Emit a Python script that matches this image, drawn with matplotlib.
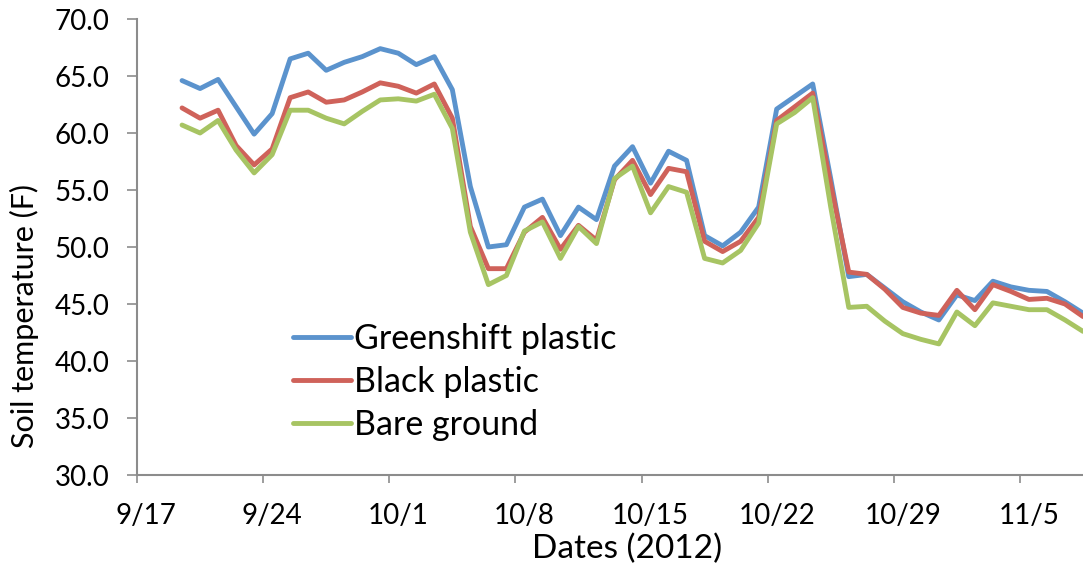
import matplotlib
matplotlib.use("Agg")
import matplotlib.pyplot as plt

# days counted from 9/17 (day 0); readings start 9/19
days = list(range(2, 53))

greenshift = [64.6, 63.9, 64.7, 62.3, 59.9, 61.7, 66.5, 67.0, 65.5, 66.2,
              66.7, 67.4, 67.0, 66.0, 66.7, 63.8, 55.3, 50.0, 50.2, 53.5,
              54.2, 51.0, 53.5, 52.4, 57.1, 58.8, 55.6, 58.4, 57.6, 51.0,
              50.1, 51.3, 53.5, 62.1, 63.2, 64.3, 56.0, 47.4, 47.6, 46.4,
              45.2, 44.3, 43.6, 45.8, 45.3, 47.0, 46.5, 46.2, 46.1, 45.2,
              44.2]
black = [62.2, 61.3, 62.0, 58.9, 57.2, 58.6, 63.1, 63.6, 62.7, 62.9,
         63.6, 64.4, 64.1, 63.5, 64.3, 61.3, 51.8, 48.1, 48.1, 51.3,
         52.6, 49.8, 51.9, 50.6, 55.9, 57.6, 54.6, 56.9, 56.6, 50.5,
         49.6, 50.5, 52.6, 61.1, 62.3, 63.5, 55.5, 47.8, 47.6, 46.3,
         44.7, 44.2, 44.0, 46.2, 44.5, 46.7, 46.1, 45.4, 45.5, 45.0,
         43.9]
bare = [60.7, 60.0, 61.1, 58.5, 56.5, 58.1, 62.0, 62.0, 61.3, 60.8,
        61.9, 62.9, 63.0, 62.8, 63.4, 60.4, 51.3, 46.7, 47.5, 51.4,
        52.2, 49.0, 51.8, 50.3, 56.0, 57.1, 53.0, 55.3, 54.8, 49.0,
        48.6, 49.7, 52.1, 60.8, 61.8, 63.1, 53.5, 44.7, 44.8, 43.5,
        42.4, 41.9, 41.5, 44.3, 43.1, 45.1, 44.8, 44.5, 44.5, 43.6,
        42.6]

date_labels = ["9/17", "9/24", "10/1", "10/8", "10/15", "10/22", "10/29", "11/5"]
label_days = [0, 7, 14, 21, 28, 35, 42, 49]
y_ticks = [30, 35, 40, 45, 50, 55, 60, 65, 70]

c_blue = "#5B93CD"
c_red = "#CF625A"
c_green = "#A7C463"
axis_grey = "#8C8C8C"

plt.rcParams['font.family'] = ['Lato', 'DejaVu Sans']

fig = plt.figure(figsize=(10.83, 5.69), dpi=100)
ax = fig.add_axes([0.1265, 0.1652, 0.8735, 0.8014])

lw = 3.5
style = dict(lw=lw, solid_capstyle='round', solid_joinstyle='round')
ax.plot(days, greenshift, color=c_blue, label="Greenshift plastic", **style)
ax.plot(days, black, color=c_red, label="Black plastic", **style)
ax.plot(days, bare, color=c_green, label="Bare ground", **style)

ax.set_xlim(-0.5, 52.0)
ax.set_ylim(30, 70)

# major ticks at week boundaries (no labels), labels centred on the day slot
ax.set_xticks([d - 0.5 for d in label_days])
ax.set_xticklabels([])
ax.set_xticks(label_days, minor=True)
ax.set_xticklabels(date_labels, minor=True, fontsize=20)
ax.tick_params(axis='x', which='major', direction='out', length=6, width=1.2, color=axis_grey)
ax.tick_params(axis='x', which='minor', length=0, pad=20)

ax.set_yticks(y_ticks)
ax.set_yticklabels([f"{v:.1f}" for v in y_ticks], fontsize=20)
ax.tick_params(axis='y', direction='out', length=7, width=1.2, color=axis_grey, pad=13)

for side in ['top', 'right']:
    ax.spines[side].set_visible(False)
for side in ['left', 'bottom']:
    ax.spines[side].set_color(axis_grey)
    ax.spines[side].set_linewidth(1.5)

fig.text(627 / 1083, 1 - 549 / 569, "Dates (2012)", fontsize=24, ha='center', va='center')
fig.text(24 / 1083, 1 - 316 / 569, "Soil temperature (F)", fontsize=22, rotation=90,
         ha='center', va='center')

ax.legend(loc='upper left', bbox_to_anchor=(0.165, 0.333), frameon=False,
          fontsize=24.5, handlelength=1.7, handletextpad=0.08, labelspacing=0.32,
          borderpad=0, borderaxespad=0)

fig.savefig("out.png", dpi=100)
